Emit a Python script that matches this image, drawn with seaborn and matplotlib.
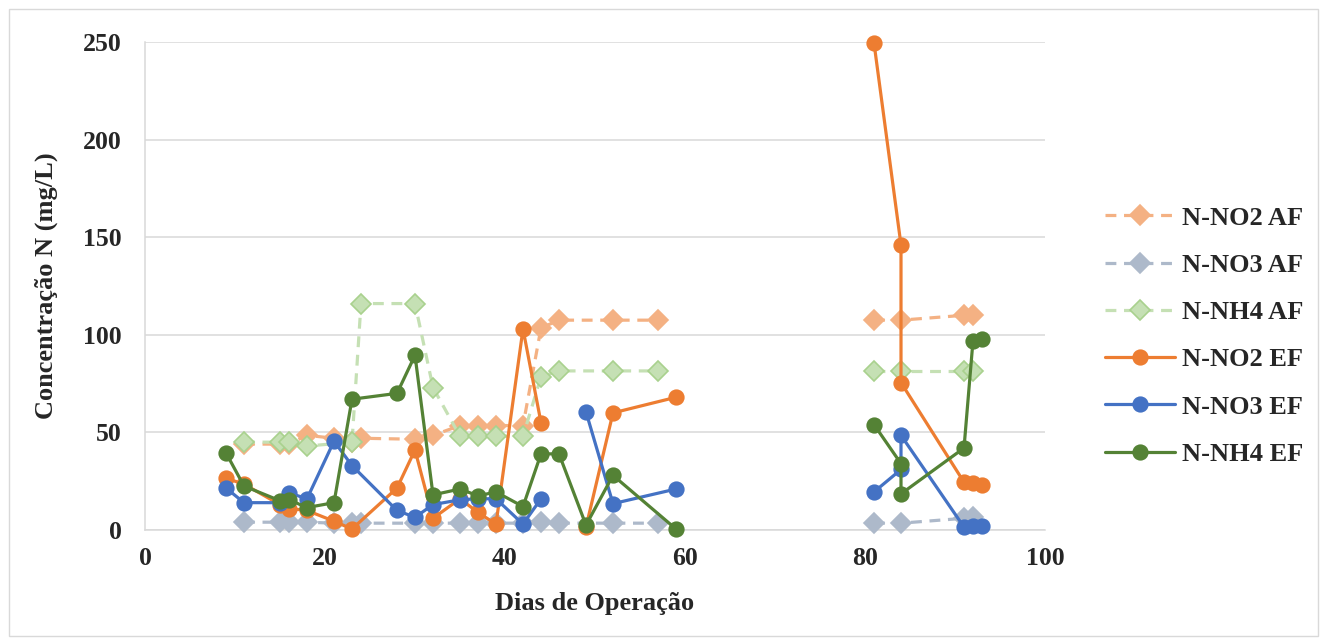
import numpy as np
import pandas as pd
import matplotlib
matplotlib.use("Agg")
import matplotlib.pyplot as plt
from matplotlib.lines import Line2D
from matplotlib.patches import Rectangle
import seaborn as sns

# ---- data -------------------------------------------------------------
nan = np.nan

# affluent (AF) sampling days; nan marks a break in the series
af_days = [11, 15, 16, 18, 21, 23, 24, 30, 32, 35, 37, 39, 42, 44, 46, 52, 57, nan, 81, 84, 91, 92]
no2_af = [44, 44, 44, 48.5, 47, 45, 47, 46.5, 48.5, 53.5, 53.5, 53.5, 53.5, 103.5, 107.5, 107.5, 107.5, nan, 107.5, 107.5, 110, 110]
no3_af = [4, 4, 4, 4, 3.5, 3.5, 3.5, 3.5, 3.5, 3.5, 3.5, 3.5, 3.5, 4, 3.5, 3.5, 3.5, nan, 3.5, 3.5, 6, 6.5]

nh4_af_days = [11, 15, 16, 18, 23, 24, 30, 32, 35, 37, 39, 42, 44, 46, 52, 57, nan, 81, 84, 91, 92]
nh4_af = [45, 45, 45, 43, 45, 116, 116, 73, 48, 48, 48, 48, 78.5, 81.5, 81.5, 81.5, nan, 81.5, 81.5, 81.5, 81.5]

# effluent (EF) sampling days
ef_days = [9, 11, 15, 16, 18, 21, 23, 28, 30, 32, 35, 37, 39, 42, 44, 46, 49, 52, 59, nan, 81, 84, 84, 91, 92, 93]
no2_ef = [26.5, 23.5, 13, 11, 10, 4.5, 0.5, 21.5, 41, 6, 16, 9, 3, 103, 55, nan, 1.5, 60, 68, nan, 249.5, 146, 75.5, 24.5, 24, 23]
no3_ef = [21.5, 14, 14, 19, 16, 45.5, 33, 10, 6.5, 13, 15.5, 16, 16, 3, 16, nan, 60.5, 13.5, 21, nan, 19.5, 31, 48.5, 1.5, 1.8, 1.8]
nh4_ef = [39.5, 22.5, 15, 15.5, 11.5, 14, 67, 70, 89.5, 18, 21, 17.5, 19.5, 12, 39, 39, 2.5, 28, 0.5, nan, 54, 34, 18.5, 42, 97, 98]

series = [
    # label, days, values, line colour, marker, face, edge, dashed
    ("N-NO2 AF", af_days, no2_af, "#F4B183", "D", "#F4B183", "#F4B183", True),
    ("N-NO3 AF", af_days, no3_af, "#ADB9CA", "D", "#ADB9CA", "#ADB9CA", True),
    ("N-NH4 AF", nh4_af_days, nh4_af, "#C5E0B4", "D", "#C5E0B4", "#A9D18E", True),
    ("N-NO2 EF", ef_days, no2_ef, "#ED7D31", "o", "#ED7D31", "#ED7D31", False),
    ("N-NO3 EF", ef_days, no3_ef, "#4472C4", "o", "#4472C4", "#4472C4", False),
    ("N-NH4 EF", ef_days, nh4_ef, "#548235", "o", "#548235", "#548235", False),
]

# ---- style ------------------------------------------------------------
sns.set_theme(style="white")
plt.rcParams["font.family"] = ["Liberation Serif", "DejaVu Serif"]
plt.rcParams["font.weight"] = "bold"

FS = 19

fig = plt.figure(figsize=(13.2, 6.38), dpi=100)
ax = fig.add_axes([145 / 1320, 1 - 530 / 638, 900 / 1320, 488 / 638])

dash_style = (0, (3.4, 2.4))
handles = []
for z, (label, days, vals, col, mk, face, edge, dashed) in enumerate(series):
    df = pd.DataFrame({"day": days, "value": vals})
    df["seg"] = df["value"].isna().cumsum()
    df = df.dropna()
    ls = dash_style if dashed else "-"
    ms = 10.5
    sns.lineplot(
        data=df, x="day", y="value", units="seg", estimator=None, sort=False,
        ax=ax, color=col, linewidth=2.3, linestyle=ls, marker=mk,
        markersize=ms, markerfacecolor=face, markeredgecolor=edge,
        markeredgewidth=1.2, legend=False, zorder=3 + z, clip_on=False,
    )
    handles.append(Line2D([], [], color=col, linewidth=2.3, linestyle=ls,
                          marker=mk, markersize=ms, markerfacecolor=face,
                          markeredgecolor=edge, markeredgewidth=1.2, label=label))

ax.set_xlim(0, 100)
ax.set_ylim(0, 250)
ax.set_xticks(np.arange(0, 101, 20))
ax.set_yticks(np.arange(0, 251, 50))
ax.yaxis.grid(True, color="#D9D9D9", linewidth=1.1)
ax.xaxis.grid(False)
ax.set_axisbelow(True)
for side in ("top", "right"):
    ax.spines[side].set_visible(False)
for side in ("left", "bottom"):
    ax.spines[side].set_color("#D9D9D9")
    ax.spines[side].set_linewidth(1.1)
ax.tick_params(axis="both", length=0, labelsize=18.5)
ax.tick_params(axis="y", pad=17)
ax.tick_params(axis="x", pad=12)
for t in ax.get_xticklabels() + ax.get_yticklabels():
    t.set_fontweight("bold")

ax.set_xlabel("Dias de Operação", fontsize=FS, fontweight="bold", labelpad=16)
ax.set_ylabel("Concentração N (mg/L)", fontsize=FS, fontweight="bold", labelpad=17.5)

fig.legend(handles=handles, loc="center left", bbox_to_anchor=(1081 / 1320, 1 - 336 / 638),
           frameon=False, handlelength=2.65, handletextpad=0.27,
           labelspacing=0.9, prop={"weight": "bold", "size": FS})

# light outer frame around the chart area
fig.patches.append(Rectangle((9 / 1320, 2 / 638), 1 - 11 / 1320, 1 - 11 / 638,
                             transform=fig.transFigure, fill=False,
                             edgecolor="#D9D9D9", linewidth=1.0))

fig.savefig("out.png", dpi=100)
